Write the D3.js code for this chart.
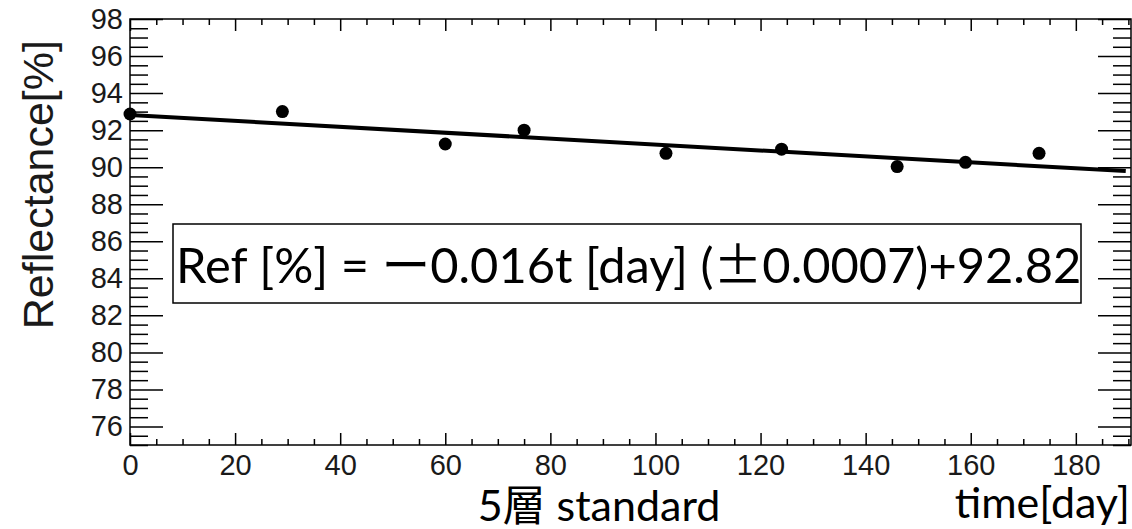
<!DOCTYPE html>
<html>
<head>
<meta charset="utf-8">
<script src="https://cdn.jsdelivr.net/npm/d3@7"></script>
<style>
  html, body { margin: 0; padding: 0; background: #fff; }
  svg { display: block; }
</style>
</head>
<body>
<svg id="chart" width="1132" height="529"></svg>
<script>
// Measurement days and reflectance values of the 5-layer standard sample
const days = [0, 29, 60, 75, 102, 124, 146, 159, 173];
const reflectance = [92.87, 93.0, 91.25, 92.0, 90.75, 90.97, 90.03, 90.26, 90.75];

// Linear fit: Ref = slope * t + intercept
const fitSlope = -0.016;
const fitIntercept = 92.82;
const fitRange = [0, 189.5];

// Axis tick values
const xMajorTicks = [0, 20, 40, 60, 80, 100, 120, 140, 160, 180];
const yMajorTicks = [76, 78, 80, 82, 84, 86, 88, 90, 92, 94, 96, 98];

const xDomain = [0, 190.5];
const yDomain = [75, 98];

const svg = d3.select("#chart");
const frame = { left: 130, right: 1131, top: 19, bottom: 445 };

const x = d3.scaleLinear().domain(xDomain).range([frame.left, frame.right]);
const y = d3.scaleLinear().domain(yDomain).range([frame.bottom, frame.top]);

const xMinor = d3.range(0, 190.01, 5).filter(v => v % 20 !== 0);
const yMinor = d3.range(75, 98.01, 0.5).filter(v => v % 2 !== 0 || v === 75);

const tickFont = "'Liberation Sans', Arial, sans-serif";

function styleAxis(g) {
  g.select(".domain").remove();
  g.selectAll("line").attr("stroke", "#000").attr("stroke-width", 1.5);
  g.selectAll("text")
    .attr("font-family", tickFont)
    .attr("font-size", 29)
    .attr("fill", "#1a1a1a");
}

// Left axis: major ticks with labels, minor ticks without
svg.append("g")
  .attr("transform", `translate(${frame.left},0)`)
  .call(d3.axisLeft(y).tickValues(yMajorTicks).tickSize(-33).tickPadding(7).tickFormat(d3.format("d")))
  .call(styleAxis);
svg.append("g")
  .attr("transform", `translate(${frame.left},0)`)
  .call(d3.axisLeft(y).tickValues(yMinor).tickSize(-18).tickFormat(""))
  .call(styleAxis);

// Right axis ticks
svg.append("g")
  .attr("transform", `translate(${frame.right},0)`)
  .call(d3.axisRight(y).tickValues(yMajorTicks).tickSize(-33).tickFormat(""))
  .call(styleAxis);
svg.append("g")
  .attr("transform", `translate(${frame.right},0)`)
  .call(d3.axisRight(y).tickValues(yMinor).tickSize(-18).tickFormat(""))
  .call(styleAxis);

// Bottom axis
svg.append("g")
  .attr("transform", `translate(0,${frame.bottom})`)
  .call(d3.axisBottom(x).tickValues(xMajorTicks).tickSize(-12).tickPadding(9).tickFormat(d3.format("d")))
  .call(styleAxis);
svg.append("g")
  .attr("transform", `translate(0,${frame.bottom})`)
  .call(d3.axisBottom(x).tickValues(xMinor).tickSize(-6).tickFormat(""))
  .call(styleAxis);

// Top axis ticks
svg.append("g")
  .attr("transform", `translate(0,${frame.top})`)
  .call(d3.axisTop(x).tickValues(xMajorTicks).tickSize(-12).tickFormat(""))
  .call(styleAxis);
svg.append("g")
  .attr("transform", `translate(0,${frame.top})`)
  .call(d3.axisTop(x).tickValues(xMinor).tickSize(-6).tickFormat(""))
  .call(styleAxis);

// Frame
svg.append("rect")
  .attr("x", frame.left)
  .attr("y", frame.top)
  .attr("width", frame.right - frame.left)
  .attr("height", frame.bottom - frame.top)
  .attr("fill", "none")
  .attr("stroke", "#000")
  .attr("stroke-width", 1.5);

// Fit line
const fitPoints = fitRange.map(t => [t, fitSlope * t + fitIntercept]);
svg.append("path")
  .datum(fitPoints)
  .attr("d", d3.line().x(d => x(d[0])).y(d => y(d[1])))
  .attr("fill", "none")
  .attr("stroke", "#000")
  .attr("stroke-width", 4);

// Data markers
svg.append("g")
  .selectAll("circle")
  .data(days.map((d, i) => [d, reflectance[i]]))
  .join("circle")
  .attr("cx", d => x(d[0]))
  .attr("cy", d => y(d[1]))
  .attr("r", 6.5)
  .attr("fill", "#000");

// Y axis title
svg.append("text")
  .attr("transform", "translate(53,40) rotate(-90)")
  .attr("text-anchor", "end")
  .attr("font-family", tickFont)
  .attr("font-size", 43)
  .attr("fill", "#1a1a1a")
  .text("Reflectance[%]");

// Fit result box
const boxFont = "Lato, 'Noto Sans CJK JP', sans-serif";
svg.append("rect")
  .attr("x", 173)
  .attr("y", 224)
  .attr("width", 908)
  .attr("height", 79)
  .attr("fill", "#fff")
  .attr("stroke", "#000")
  .attr("stroke-width", 1.5);

const eq = svg.append("text")
  .attr("x", 176)
  .attr("y", 283)
  .attr("font-family", boxFont)
  .attr("font-size", 48.8)
  .attr("fill", "#000");
eq.append("tspan").text("Ref [%] = ");
eq.append("tspan").attr("font-family", "'Noto Sans CJK JP'").text("ー");
eq.append("tspan").text("0.016t [day] (");
eq.append("tspan").attr("font-family", "'Noto Sans CJK JP'").text("±");
eq.append("tspan").text("0.0007)+92.82");

// X axis titles
svg.append("text")
  .attr("x", 1130)
  .attr("y", 518)
  .attr("text-anchor", "end")
  .attr("font-family", boxFont)
  .attr("font-size", 43)
  .attr("fill", "#000")
  .text("time[day]");

svg.append("text")
  .attr("x", 599)
  .attr("y", 521)
  .attr("text-anchor", "middle")
  .attr("font-family", boxFont)
  .attr("font-size", 43)
  .attr("fill", "#000")
  .text("5層 standard");
</script>
</body>
</html>
